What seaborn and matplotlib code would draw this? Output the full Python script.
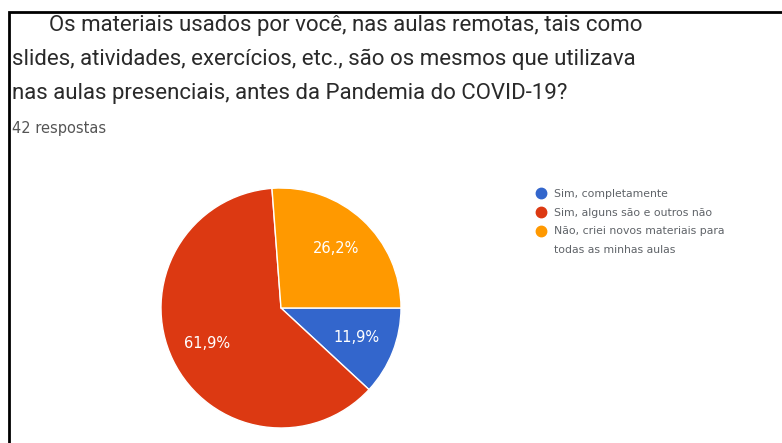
import matplotlib
matplotlib.use("Agg")
import matplotlib.pyplot as plt
from matplotlib.patches import Rectangle
from matplotlib.lines import Line2D
import seaborn as sns

# Survey answers (42 responses)
categories = [
    "Sim, completamente",
    "Sim, alguns são e outros não",
    "Não, criei novos materiais para\ntodas as minhas aulas",
]
shares = [11.9, 61.9, 26.2]
colors = ["#3366cc", "#dc3912", "#ff9900"]

title_lines = [
    "Os materiais usados por você, nas aulas remotas, tais como",
    "slides, atividades, exercícios, etc., são os mesmos que utilizava",
    "nas aulas presenciais, antes da Pandemia do COVID-19?",
]
subtitle = "42 respostas"

sns.set_theme(style="white")
plt.rcParams["font.family"] = ["Roboto", "DejaVu Sans"]

W, H = 782, 443
fig = plt.figure(figsize=(W / 100, H / 100), dpi=100)
fig.patch.set_facecolor("white")

# Frame around the card
fig.add_artist(Rectangle((9 / W, -0.05), 1.2, (H - 12) / H + 0.05,
                         transform=fig.transFigure, fill=False,
                         edgecolor="black", linewidth=2))

# Question text
title_kw = dict(fontsize=16, color="#2a2a2a", va="center")
fig.text(49 / W, 1 - 25 / H, title_lines[0], **title_kw)
fig.text(12 / W, 1 - 59 / H, title_lines[1], **title_kw)
fig.text(12 / W, 1 - 93 / H, title_lines[2], **title_kw)
fig.text(12 / W, 1 - 129 / H, subtitle, fontsize=10.5, color="#555555",
         va="center", family="DejaVu Sans")

# Pie: centre (281, 308) px, radius 120 px
cx, cy, r = 281, 308, 120
ax = fig.add_axes([(cx - r) / W, (H - cy - r) / H, 2 * r / W, 2 * r / H])
wedges, _, autotexts = ax.pie(
    shares, colors=colors, startangle=0, counterclock=False,
    autopct=lambda p: f"{p:.1f}%".replace(".", ","), pctdistance=0.68,
    wedgeprops=dict(edgecolor="white", linewidth=1),
    textprops=dict(color="white", fontsize=10.5, family="DejaVu Sans"),
)
ax.set_xlim(-1, 1)
ax.set_ylim(-1, 1)
ax.set_aspect("equal")
ax.axis("off")

# Legend: one row per text line, the marker sits on the first line of each label
handles, labels = [], []
for cat, c in zip(categories, colors):
    for i, line in enumerate(cat.split("\n")):
        handles.append(Line2D([], [], marker="o", linestyle="none", markersize=7.5,
                              markerfacecolor=c, markeredgecolor=c,
                              alpha=1.0 if i == 0 else 0.0))
        labels.append(line)

leg = fig.legend(handles, labels, loc="upper left",
                 bbox_to_anchor=(535.5 / W, 1 - 189 / H), frameon=False,
                 prop=dict(family="DejaVu Sans", size=7.8),
                 handletextpad=0.7, labelspacing=0.8,
                 handlelength=1.0, borderaxespad=0, borderpad=0)
for t in leg.get_texts():
    t.set_color("#5f6368")

fig.savefig("out.png", dpi=100, facecolor="white")
